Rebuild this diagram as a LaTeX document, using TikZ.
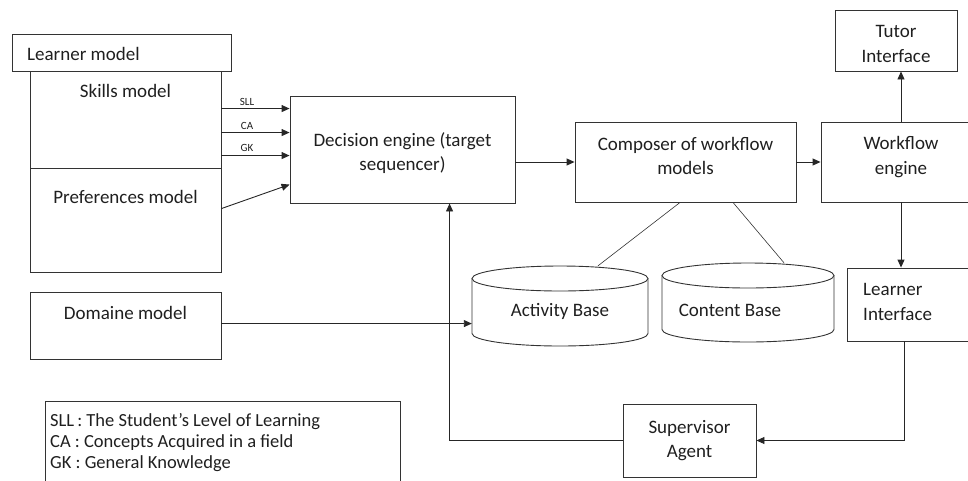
\documentclass[tikz,border=0pt]{standalone}
\usepackage{fontspec}
\setmainfont{Carlito}
\usetikzlibrary{arrows.meta,calc}
\begin{document}
\begin{tikzpicture}[x=1pt,y=-1pt,
  every node/.style={text=black!88},
  box/.style={draw=black!80, line width=0.9pt, inner sep=0pt},
  lbl/.style={font=\fontsize{19}{24.5}\selectfont, align=center, inner sep=0pt},
  arr/.style={draw=black!85, line width=0.9pt, -{Triangle[length=8pt,width=7pt]}},
  conn/.style={draw=black!80, line width=0.6pt},
  cyl/.style={draw=black!80, line width=0.9pt},
  tiny/.style={font=\fontsize{11}{12}\selectfont, inner sep=0pt}
]
\useasboundingbox (0,0) rectangle (968,480);
\clip (0,0) rectangle (968,480);

% learner model
\node[box, minimum width=219, minimum height=37] (lm) at (121.5,52.5) {};
\node[lbl, anchor=west] (lmt) at (27,54) {Learner model};
\node[box, minimum width=191, minimum height=97] (sk) at (125.5,119.5) {};
\node[lbl] (skt) at (125.5,91) {Skills model};
\node[box, minimum width=191, minimum height=104] (pm) at (125.5,220) {};
\node[lbl] (pmt) at (125.5,197) {Preferences model};

% domain model
\node[box, minimum width=191, minimum height=67] (dm) at (125.5,325.5) {};
\node[lbl] (dmt) at (125.5,313) {Domaine model};

% main boxes
\node[box, lbl, minimum width=225, minimum height=107] (de) at (402.5,149.5) {\rule{0pt}{21pt}Decision engine (target\\sequencer)};
\node[box, lbl, minimum width=221, minimum height=80] (cw) at (685.5,162) {Composer of workflow\\models\rule[-12pt]{0pt}{0pt}};
\node[box, lbl, minimum width=160, minimum height=80] (wf) at (901,162) {Workflow\\engine\rule[-13pt]{0pt}{0pt}};
\node[box, lbl, minimum width=122, minimum height=61] (tu) at (896,40.5) {\rule{0pt}{19.5pt}Tutor\\Interface};
\node[box, minimum width=140, minimum height=73] (li) at (917,304.5) {};
\node[lbl, align=left, anchor=west] (lit) at (863,302) {Learner\\Interface};
\node[box, lbl, minimum width=133, minimum height=73] (sa) at (689.5,440.5) {Supervisor\\Agent};

% cylinders
\node[minimum width=176, minimum height=80, inner sep=0pt] (ab) at (560,306) {};
\draw[cyl] (560,278.5) ellipse[x radius=88, y radius=12.5];
\draw[cyl] (472,278.5) -- (472,333.5) arc[start angle=180, end angle=0, x radius=88, y radius=12.5] -- (648,278.5);
\node[lbl] (abt) at (560,311) {Activity Base};

\node[minimum width=172, minimum height=79, inner sep=0pt] (cb) at (748,302.5) {};
\draw[cyl] (748,275.5) ellipse[x radius=86, y radius=12.5];
\draw[cyl] (662,275.5) -- (662,329.5) arc[start angle=180, end angle=0, x radius=86, y radius=12.5] -- (834,275.5);
\node[lbl] (cbt) at (730,310) {Content Base};

% legend
\node[box, minimum width=355, minimum height=100, anchor=north west] (lg) at (45,401) {};
\node[font=\fontsize{18.5}{21}\selectfont, align=left, inner sep=0pt, anchor=west] (lgt) at (50,443)
  {SLL\,: The Student's Level of Learning\\CA : Concepts Acquired in a field\\GK : General Knowledge};

% inputs to decision engine
\draw[arr] ($(sk.north east)+(0,38)$) -- ($(de.north west)+(0,13)$);
\draw[arr] ($(sk.north east)+(0,62)$) -- ($(de.north west)+(0,37)$);
\draw[arr] ($(sk.north east)+(0,85)$) -- ($(de.north west)+(0,60)$);
\draw[arr] ($(pm.north east)+(0,41)$) -- ($(de.north west)+(0,89)$);
\node[tiny] (sll) at (247,102) {SLL};
\node[tiny] (ca) at (247,126) {CA};
\node[tiny] (gk) at (247,148) {GK};

% main flow
\draw[arr] (cw.west -| de.east) -- (cw.west);
\draw[arr] (cw.east) -- (wf.west);
\draw[arr] (wf.north) -- (wf.north |- tu.south);
\draw[arr] (wf.south) -- (wf.south |- li.north);
\draw[arr] ($(li.south west)+(58,0)$) |- (sa.east);
\draw[arr] (sa.west) -| ($(de.south west)+(160,0)$);

\coordinate (dmo) at ($(dm.north east)+(0,32)$);
\draw[arr] (dmo) -- (dmo -| ab.west);

% composer to bases
\draw[conn] ($(cw.south)+(-5.5,0)$) -- ($(ab.north)+(38,0)$);
\draw[conn] ($(cw.south)+(47.5,0)$) -- ($(cb.north)+(36,0)$);
\end{tikzpicture}
\end{document}
